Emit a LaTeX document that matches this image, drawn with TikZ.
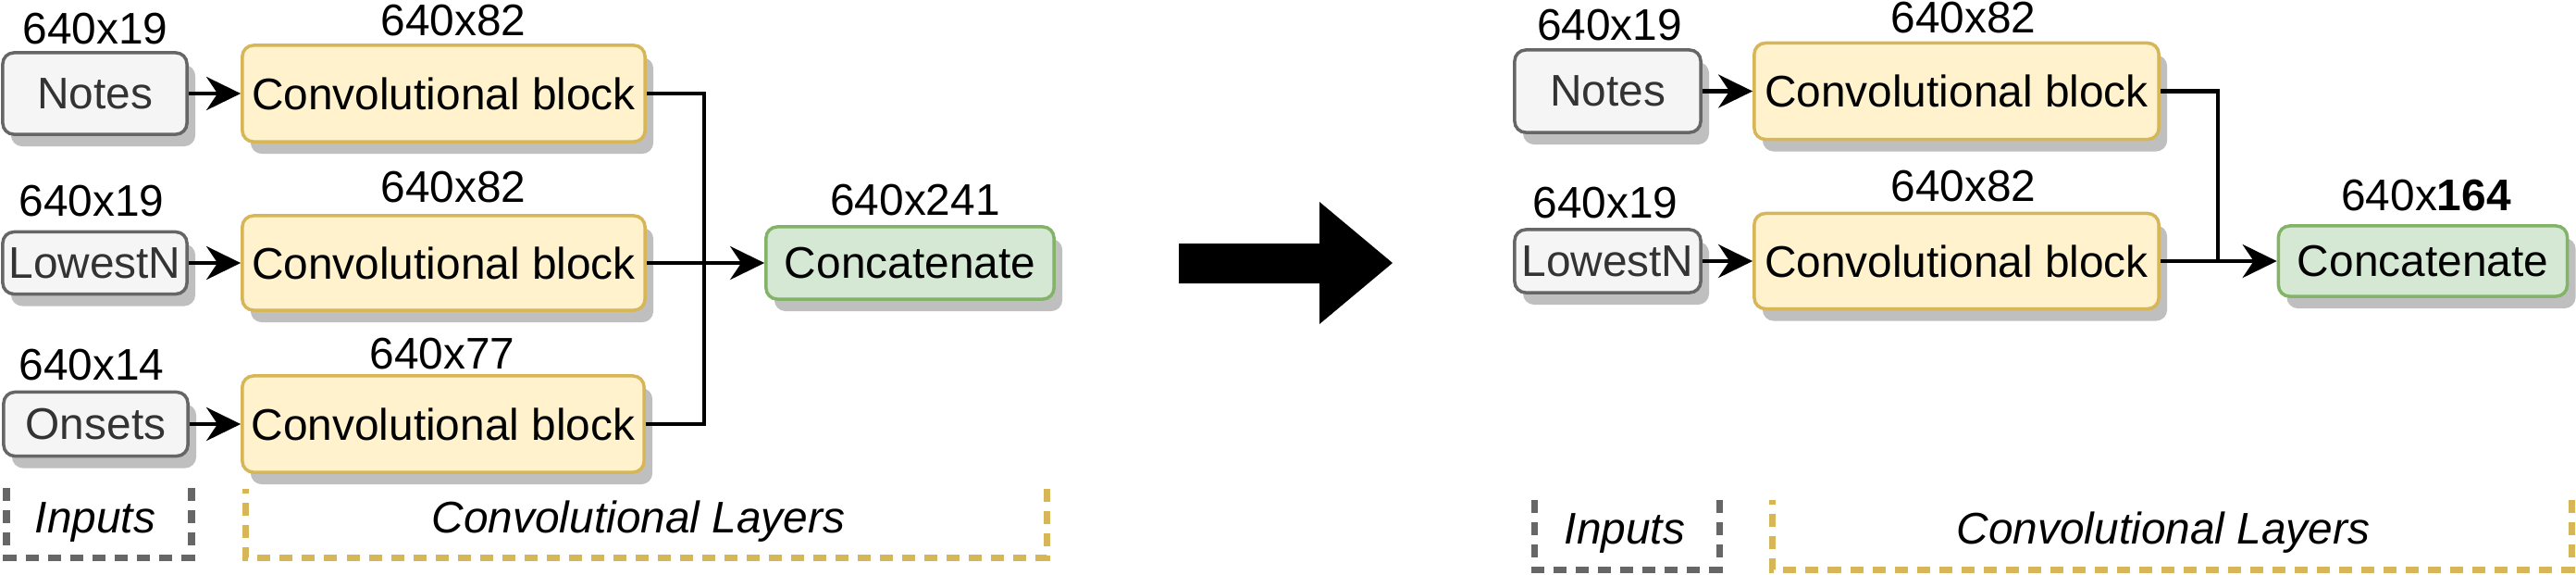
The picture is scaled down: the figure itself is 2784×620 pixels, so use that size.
\documentclass[tikz,border=0pt]{standalone}
\usepackage{fontspec}
\setmainfont{Liberation Sans}
\usetikzlibrary{arrows.meta,shadows}
\definecolor{gstroke}{HTML}{666666}
\definecolor{gfill}{HTML}{F5F5F5}
\definecolor{gtext}{HTML}{333333}
\definecolor{ystroke}{HTML}{D6B656}
\definecolor{yfill}{HTML}{FFF2CC}
\definecolor{cstroke}{HTML}{82B366}
\definecolor{cfill}{HTML}{D5E8D4}
\definecolor{shade}{HTML}{BFBFBF}
\newcommand\dgfont{\fontsize{13.6pt}{16pt}\selectfont}
\tikzset{
  box/.style={rectangle, rounded corners=0.12cm, line width=0.035cm, inner sep=0pt,
    font=\dgfont,
    drop shadow={shadow xshift=0.09cm, shadow yshift=-0.13cm, fill=shade, opacity=1}},
  inbox/.style={box, draw=gstroke, fill=gfill, text=gtext},
  convbox/.style={box, draw=ystroke, fill=yfill},
  catbox/.style={box, draw=cstroke, fill=cfill},
  dimlabel/.style={anchor=base, inner sep=0pt, font=\dgfont},
  grouplabel/.style={anchor=base, inner sep=0pt, font={\dgfont\itshape}},
  link/.style={line width=0.042cm},
  arrowlink/.style={link, -{Stealth[length=0.37cm, width=0.36cm, inset=0.12cm]}},
  bracket/.style={line width=0.07cm, dash pattern=on 0.14cm off 0.10cm, line join=miter},
}
\begin{document}
\begin{tikzpicture}[x=0.01cm, y=-0.01cm]
\useasboundingbox (0,0) rectangle (2784,620);

% ---------- left diagram ----------
\node[inbox, minimum width=1.99cm, minimum height=0.88cm] (n1) at (102.5,101) {Notes};
\node[inbox, minimum width=1.99cm, minimum height=0.67cm] (l1) at (102.5,284) {LowestN};
\node[inbox, minimum width=1.99cm, minimum height=0.69cm] (o1) at (103.5,458) {Onsets};
\node[convbox, minimum width=4.35cm, minimum height=1.04cm] (c1) at (479.5,101) {Convolutional block};
\node[convbox, minimum width=4.35cm, minimum height=1.02cm] (c2) at (479.5,284) {Convolutional block};
\node[convbox, minimum width=4.34cm, minimum height=1.04cm] (c3) at (479,458) {Convolutional block};
\node[catbox, minimum width=3.11cm, minimum height=0.78cm] (cat1) at (983.5,284) {Concatenate};

\node[dimlabel] (dn1) at (103,47) {640x19};
\node[dimlabel] (dl1) at (99,233) {640x19};
\node[dimlabel] (do1) at (99,410) {640x14};
\node[dimlabel] (dc1) at (490,38) {640x82};
\node[dimlabel] (dc2) at (490,218) {640x82};
\node[dimlabel] (dc3) at (478,398) {640x77};
\node[dimlabel] (dcat1) at (989,232) {640x241};

\coordinate (j1) at (761,284);
\draw[arrowlink] (n1.east) -- (c1.west);
\draw[arrowlink] (l1.east) -- (c2.west);
\draw[arrowlink] (o1.east) -- (c3.west);
\draw[link] (c1.east) -| (j1);
\draw[link] (c3.east) -| (j1);
\draw[arrowlink] (c2.east) -- (cat1.west);

\draw[bracket, draw=gstroke] (207,527) -- (207,602) -- (7,602) -- (7,527);
\draw[bracket, draw=ystroke] (1131,528) -- (1131,602) -- (265,602) -- (265,528);
\node[grouplabel] (gi1) at (103,575) {Inputs};
\node[grouplabel] (gc1) at (690,575) {Convolutional Layers};

% ---------- big arrow ----------
\fill[black] (1274,263) -- (1426,263) -- (1426,218) -- (1505,284) -- (1426,350) -- (1426,306) -- (1274,306) -- cycle;

% ---------- right diagram ----------
\node[inbox, minimum width=2.01cm, minimum height=0.89cm] (n2) at (1737.5,98.5) {Notes};
\node[inbox, minimum width=2.01cm, minimum height=0.68cm] (l2) at (1737.5,282) {LowestN};
\node[convbox, minimum width=4.37cm, minimum height=1.04cm] (c4) at (2114.5,98.5) {Convolutional block};
\node[convbox, minimum width=4.37cm, minimum height=1.03cm] (c5) at (2114.5,282) {Convolutional block};
\node[catbox, minimum width=3.12cm, minimum height=0.76cm] (cat2) at (2618.5,282) {Concatenate};

\node[dimlabel] (dn2) at (1739.5,43) {640x19};
\node[dimlabel] (dl2) at (1735,235) {640x19};
\node[dimlabel] (dc4) at (2122,35) {640x82};
\node[dimlabel] (dc5) at (2122,217) {640x82};
\node[dimlabel] (dcat2) at (2622,227) {640x\textbf{164}};

\coordinate (j2) at (2397,282);
\draw[arrowlink] (n2.east) -- (c4.west);
\draw[arrowlink] (l2.east) -- (c5.west);
\draw[link] (c4.east) -| (j2);
\draw[arrowlink] (c5.east) -- (cat2.west);

\draw[bracket, draw=gstroke] (1858,540) -- (1858,615) -- (1658,615) -- (1658,540);
\draw[bracket, draw=ystroke] (2779,540) -- (2779,615) -- (1915,615) -- (1915,540);
\node[grouplabel] (gi2) at (1756,587) {Inputs};
\node[grouplabel] (gc2) at (2338,587) {Convolutional Layers};
\end{tikzpicture}
\end{document}
